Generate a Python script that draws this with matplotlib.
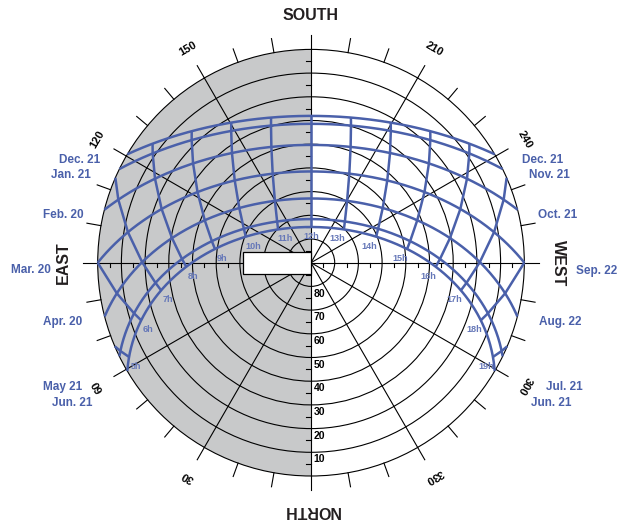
import numpy as np
import matplotlib.pyplot as plt
from matplotlib.patches import Wedge, Circle, Rectangle

# sun path data: latitude, declination of each date curve, hours
latitude = 38.5
declinations = [-23.44, -20.1, -11.2, 0.0, 11.4, 20.1, 23.44]
dates_left = ['Dec. 21', 'Jan. 21', 'Feb. 20', 'Mar. 20', 'Apr. 20', 'May 21', 'Jun. 21']
dates_right = ['Dec. 21', 'Nov. 21', 'Oct. 21', 'Sep. 22', 'Aug. 22', 'Jul. 21', 'Jun. 21']
hours = [5, 6, 7, 8, 9, 10, 11, 12, 13, 14, 15, 16, 17, 18, 19]
altitudes = [80, 70, 60, 50, 40, 30, 20, 10]
azimuth_labels = [30, 60, 120, 150, 210, 240, 300, 330]
cardinals = {'NORTH': 0, 'EAST': 90, 'SOUTH': 180, 'WEST': 270}

BLUE = '#4a60aa'
HOUR_BLUE = '#6577b8'
GRAY = '#c8c9ca'
FONT = ['Liberation Sans Narrow', 'Liberation Sans', 'DejaVu Sans']

# pixel layout of the image (center of the dial, px per degree)
CX, CY = 311, 262.7
S = 213.3 / 90


def px(x, y):
    return (x - CX) / S, (CY - y) / S


def sun_xy(dec, H):
    d, p, h = np.radians(dec), np.radians(latitude), np.radians(H)
    up = np.sin(p) * np.sin(d) + np.cos(p) * np.cos(d) * np.cos(h)
    east = -np.cos(d) * np.sin(h)
    north = np.cos(p) * np.sin(d) - np.sin(p) * np.cos(d) * np.cos(h)
    z = 90 - np.degrees(np.arcsin(np.clip(up, -1, 1)))
    hz = np.hypot(east, north)
    return -z * east / hz, -z * north / hz


def az_xy(A, r):
    a = np.radians(A)
    return -r * np.sin(a), -r * np.cos(a)


fig = plt.figure(figsize=(6.19, 5.21), dpi=100)
ax = fig.add_axes([0, 0, 1, 1])
ax.set_xlim(-CX / S, (619 - CX) / S)
ax.set_ylim(-(521 - CY) / S, CY / S)
ax.set_aspect('equal')
ax.axis('off')

# east half shaded
ax.add_patch(Wedge((0, 0), 90, 90, 270, facecolor=GRAY, edgecolor='none', zorder=0))

# altitude rings
for z in range(10, 91, 10):
    ax.add_patch(Circle((0, 0), z, fill=False, edgecolor='black', lw=0.8, zorder=1))

# radial lines and outer ticks
for A in range(0, 360, 30):
    x, y = az_xy(A, 90)
    ax.plot([0, x], [0, y], color='black', lw=0.8, zorder=1)
for A in range(0, 360, 10):
    x0, y0 = az_xy(A, 90)
    x1, y1 = az_xy(A, 96)
    ax.plot([x0, x1], [y0, y1], color='black', lw=0.8, zorder=1)

# small ticks on the axes
for d in range(5, 90, 10):
    for s in (1, -1):
        ax.plot([-2.1, 0], [s * d, s * d], color='black', lw=0.8, zorder=1)
        ax.plot([s * d, s * d], [0, -1.8], color='black', lw=0.8, zorder=1)

# date curves
for dec in declinations:
    H0 = np.degrees(np.arccos(-np.tan(np.radians(latitude)) * np.tan(np.radians(dec))))
    H = np.linspace(-H0, H0, 400)
    x, y = sun_xy(dec, H)
    ax.plot(x, y, color=BLUE, lw=1.8, zorder=2, solid_capstyle='butt')

# hour lines: straight segments joining the date curves, cut at the horizon
dmin, dmax = min(declinations), max(declinations)
for hr in hours:
    H = (hr - 12) * 15.0
    d0 = np.degrees(np.arctan(-np.cos(np.radians(H)) / np.tan(np.radians(latitude))))
    if d0 >= dmax:
        continue
    ds = [d for d in sorted(declinations) if d > d0]
    if d0 > dmin:
        # horizon point, placed on the straight segment toward the lower date
        below = max(d for d in declinations if d <= d0)
        xa, ya = sun_xy(below, H)
        xb, yb = sun_xy(ds[0], H)
        # find the fraction where the segment meets r = 90
        t = np.linspace(0, 1, 2001)
        rr = np.hypot(xa + (xb - xa) * t, ya + (yb - ya) * t)
        i = np.argmin(np.abs(rr - 90))
        hx, hy = xa + (xb - xa) * t[i], ya + (yb - ya) * t[i]
        xs = [hx] + [sun_xy(d, H)[0] for d in ds]
        ys = [hy] + [sun_xy(d, H)[1] for d in ds]
    else:
        xs = [sun_xy(d, H)[0] for d in ds]
        ys = [sun_xy(d, H)[1] for d in ds]
    ax.plot(xs, ys, color=BLUE, lw=1.8, zorder=2, solid_capstyle='butt')
    # label below and inside the June point
    jx, jy = sun_xy(dmax, H)
    lx = jx - np.sign(round(jx, 6)) * 7 / S
    ly = jy - 9.5 / S
    ax.text(lx, ly, f'{hr}h', color=HOUR_BLUE, fontsize=6.5, fontweight='bold',
            family=FONT, ha='center', va='center', zorder=4)

# blank box left of the center
x0, y0 = px(243, 273.5)
ax.add_patch(Rectangle((x0, y0), -x0, 9.2, facecolor='white', edgecolor='black',
                       lw=0.9, zorder=3))

# altitude labels
for alt in altitudes:
    ax.text(1.2, -(90 - alt) - 3.0, str(alt), fontsize=7.5, fontweight='bold', family=FONT,
            ha='left', va='center', zorder=4)

# azimuth labels
for A in azimuth_labels:
    x, y = az_xy(A, 104)
    ax.text(x, y, str(A), fontsize=8, fontweight='bold', family=FONT, rotation=180 - A,
            rotation_mode='anchor', ha='center', va='center')
for name, A in cardinals.items():
    x, y = az_xy(A, 104.5)
    ax.text(x, y, name, fontsize=11.5, fontweight='bold', family=FONT, rotation=180 - A,
            rotation_mode='anchor', ha='center', va='center', color='#231f20')

# date labels (centers in image pixels)
left_pos = [(80, 160), (71, 175), (63, 215), (31, 270), (63, 322), (63, 387), (72, 403)]
right_pos = [(543, 160), (549, 175), (558, 215), (597, 271), (560, 322), (564, 387), (551, 403)]
for lab, (x, y) in zip(dates_left + dates_right, left_pos + right_pos):
    ax.text(*px(x, y), lab, color=BLUE, fontsize=8.5, fontweight='bold', family=FONT,
            ha='center', va='center')

fig.savefig('out.png', dpi=100)
